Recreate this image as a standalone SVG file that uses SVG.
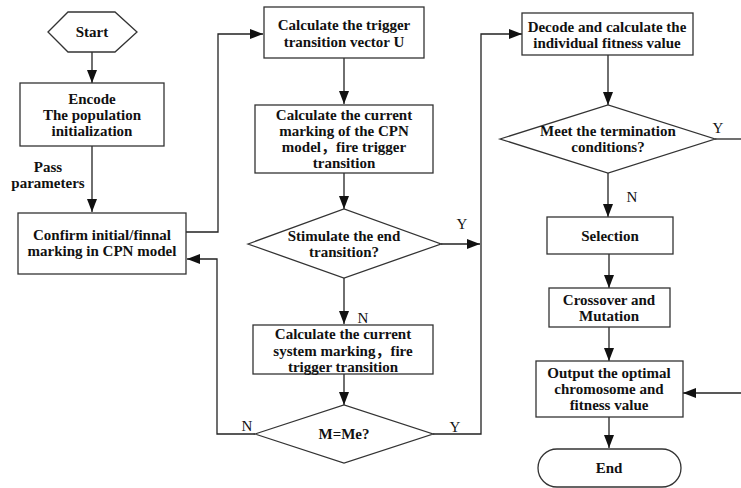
<svg xmlns="http://www.w3.org/2000/svg" width="741" height="488" viewBox="0 0 741 488">
<defs>
<marker id="ah" viewBox="0 0 13 10" refX="13" refY="5" markerWidth="13" markerHeight="10" markerUnits="userSpaceOnUse" orient="auto">
<path d="M0,0 L13,5 L0,10 Z" fill="#111"/>
</marker>
<style>
.s{fill:#fff;stroke:#333;stroke-width:1.3}
.c{fill:none;stroke:#222;stroke-width:1.3}
text{font-family:"Liberation Serif","Noto Sans CJK SC",serif;font-size:15px;fill:#111;text-anchor:middle;dominant-baseline:central}
.t{font-weight:bold}
</style>
</defs>
<rect width="741" height="488" fill="#fff"/>
<g id="connectors">
<path class="c" d="M92,52 V83" marker-end="url(#ah)"/>
<path class="c" d="M92,146 V212" marker-end="url(#ah)"/>
<path class="c" d="M186,232 H218 V34 H263" marker-end="url(#ah)"/>
<path class="c" d="M344,58 V104" marker-end="url(#ah)"/>
<path class="c" d="M344,173 V209" marker-end="url(#ah)"/>
<path class="c" d="M344,278 V324" marker-end="url(#ah)"/>
<path class="c" d="M441,244 H480" marker-end="url(#ah)"/>
<path class="c" d="M344,374 V405" marker-end="url(#ah)"/>
<path class="c" d="M255,434 H217 V259 H187" marker-end="url(#ah)"/>
<path class="c" d="M433,434 H481 V34 H522" marker-end="url(#ah)"/>
<path class="c" d="M608,55 V105" marker-end="url(#ah)"/>
<path class="c" d="M715,139 H741"/>
<path class="c" d="M608,173 V217" marker-end="url(#ah)"/>
<path class="c" d="M609,254 V288" marker-end="url(#ah)"/>
<path class="c" d="M609,327 V361" marker-end="url(#ah)"/>
<path class="c" d="M741,393 H683" marker-end="url(#ah)"/>
<path class="c" d="M609,417 V448" marker-end="url(#ah)"/>
<text class="t" x="48" y="167">Pass</text>
<text class="t" x="48" y="183">parameters</text>
<text x="462" y="224">Y</text>
<text x="363" y="318">N</text>
<text x="247" y="426">N</text>
<text x="455" y="427">Y</text>
<text x="718" y="128">Y</text>
<text x="632" y="197">N</text>
</g>
<g id="start">
<polygon class="s" points="48,32 68,12 115,12 137,32 115,52 68,52"/>
<text class="t" x="92" y="32">Start</text>
</g>
<g id="encode">
<rect class="s" x="20" y="83" width="144" height="63"/>
<text class="t" x="92" y="99">Encode</text>
<text class="t" x="92" y="115">The population</text>
<text class="t" x="92" y="131">initialization</text>
</g>
<g id="confirm">
<rect class="s" x="18" y="213" width="168" height="61"/>
<text class="t" x="102" y="235">Confirm initial/finnal</text>
<text class="t" x="102" y="251">marking in CPN model</text>
</g>
<g id="trigger">
<rect class="s" x="264" y="7" width="160" height="51"/>
<text class="t" x="344" y="25">Calculate the trigger</text>
<text class="t" x="344" y="42">transition vector U</text>
</g>
<g id="current-marking">
<rect class="s" x="255" y="105" width="178" height="68"/>
<text class="t" x="344" y="115">Calculate the current</text>
<text class="t" x="344" y="131">marking of the CPN</text>
<text class="t" x="344" y="147">model，fire trigger</text>
<text class="t" x="344" y="163">transition</text>
</g>
<g id="stimulate">
<polygon class="s" points="248,244 344,209 441,244 344,278"/>
<text class="t" x="344" y="236">Stimulate the end</text>
<text class="t" x="344" y="252">transition?</text>
</g>
<g id="system-marking">
<rect class="s" x="253" y="325" width="180" height="49"/>
<text class="t" x="343" y="334">Calculate the current</text>
<text class="t" x="343" y="351">system marking，fire</text>
<text class="t" x="343" y="367">trigger transition</text>
</g>
<g id="mme">
<polygon class="s" points="255,434 344,405 433,434 344,463"/>
<text class="t" x="344" y="434">M=Me?</text>
</g>
<g id="decode">
<rect class="s" x="522" y="13" width="171" height="42"/>
<text class="t" x="607" y="27">Decode and calculate the</text>
<text class="t" x="607" y="43">individual fitness value</text>
</g>
<g id="termination">
<polygon class="s" points="500,139 608,105 715,139 608,173"/>
<text class="t" x="608" y="131">Meet the termination</text>
<text class="t" x="608" y="147">conditions?</text>
</g>
<g id="selection">
<rect class="s" x="547" y="217" width="126" height="37"/>
<text class="t" x="610" y="236">Selection</text>
</g>
<g id="crossover">
<rect class="s" x="549" y="288" width="121" height="39"/>
<text class="t" x="609" y="300">Crossover and</text>
<text class="t" x="609" y="316">Mutation</text>
</g>
<g id="output">
<rect class="s" x="536" y="361" width="147" height="56"/>
<text class="t" x="609" y="373">Output the optimal</text>
<text class="t" x="609" y="389">chromosome and</text>
<text class="t" x="609" y="405">fitness value</text>
</g>
<g id="end">
<rect class="s" x="538" y="449" width="143" height="38" rx="19" ry="19"/>
<text class="t" x="609" y="468">End</text>
</g>
</svg>
